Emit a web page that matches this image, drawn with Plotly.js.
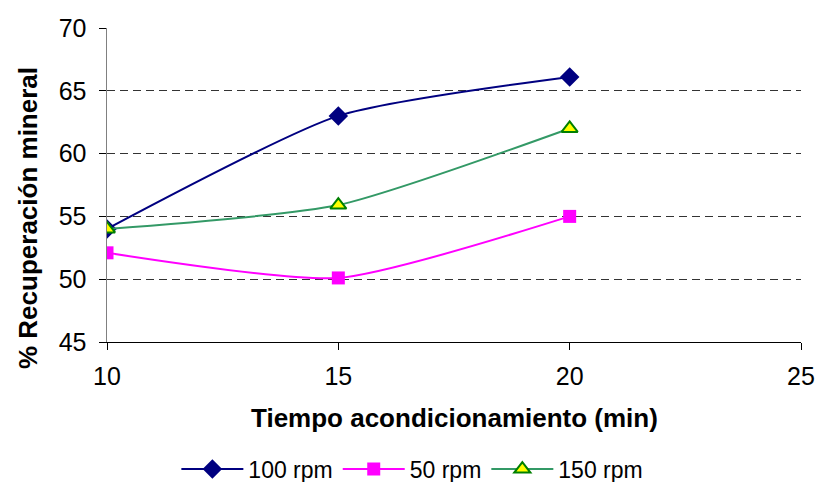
<!DOCTYPE html>
<html><head><meta charset="utf-8">
<script src="https://cdn.plot.ly/plotly-3.0.1.min.js"></script>
<style>html,body{margin:0;padding:0;background:#fff}#c{width:818px;height:482px}</style>
</head><body><div id="c"></div>
<script>
const tiempo = [10, 15, 20];
const rpm100 = [54, 63, 66.1];
const rpm50 = [52.1, 50.1, 55];
const rpm150 = [54, 55.9, 62];
const seriesNames = ["100 rpm", "50 rpm", "150 rpm"];
const xTicks = [10, 15, 20, 25];
const yTicks = [45, 50, 55, 60, 65, 70];
const xTitle = 'Tiempo acondicionamiento (min)';
const yTitle = '% Recuperación mineral';

const traces = [
  {x: tiempo, y: rpm100, name: seriesNames[0], mode: 'lines+markers',
   line: {color: '#000080', width: 2, shape: 'spline', smoothing: 0.6},
   marker: {symbol: 'diamond', size: 15, color: '#000080'}},
  {x: tiempo, y: rpm50, name: seriesNames[1], mode: 'lines+markers',
   line: {color: '#FF00FF', width: 2, shape: 'spline', smoothing: 0.6},
   marker: {symbol: 'square', size: 13, color: '#FF00FF'}},
  {x: tiempo, y: rpm150, name: seriesNames[2], mode: 'lines+markers',
   line: {color: '#339966', width: 2, shape: 'spline', smoothing: 0.6},
   marker: {symbol: 'triangle-up', size: 14, color: '#FFFF00', line: {color: '#008000', width: 2}}}
];

const layout = {
  width: 818, height: 482,
  margin: {l: 107, r: 17, t: 28, b: 140, autoexpand: false},
  paper_bgcolor: '#fff', plot_bgcolor: '#fff',
  font: {family: 'Liberation Sans, Arial, sans-serif', color: '#000'},
  showlegend: true,
  legend: {orientation: 'h', x: 0.44, xanchor: 'center', y: -0.405, yanchor: 'middle',
    font: {size: 23}, itemwidth: 62, tracegroupgap: 0},
  xaxis: {range: [10, 25], tickvals: xTicks, ticks: 'outside', ticklen: 7, tickcolor: '#000',
    showline: true, linecolor: '#000', linewidth: 1, showgrid: false, zeroline: false,
    tickfont: {size: 25}, ticklabelstandoff: 5, automargin: false},
  yaxis: {range: [45, 70], tickvals: yTicks, ticks: 'outside', ticklen: 7, tickcolor: '#000',
    showline: true, linecolor: '#808080', linewidth: 1.5, showgrid: true, gridcolor: '#333',
    griddash: '8px,5px', gridwidth: 1, zeroline: false, ticksuffix: '\u00a0',
    tickfont: {size: 25}, ticklabelstandoff: 7, automargin: false},
  annotations: [
    {text: '<b>' + xTitle + '</b>', xref: 'paper', yref: 'paper', x: 0.5, y: (342 - 418) / 314,
     xanchor: 'center', yanchor: 'middle', showarrow: false, font: {size: 26}},
    {text: '<b>' + yTitle + '</b>', xref: 'paper', yref: 'paper', x: (28 - 107) / 694, y: (342 - 218) / 314,
     xanchor: 'center', yanchor: 'middle', textangle: -90, showarrow: false, font: {size: 26}}
  ]
};

Plotly.newPlot('c', traces, layout, {displayModeBar: false, staticPlot: true});
</script></body></html>
